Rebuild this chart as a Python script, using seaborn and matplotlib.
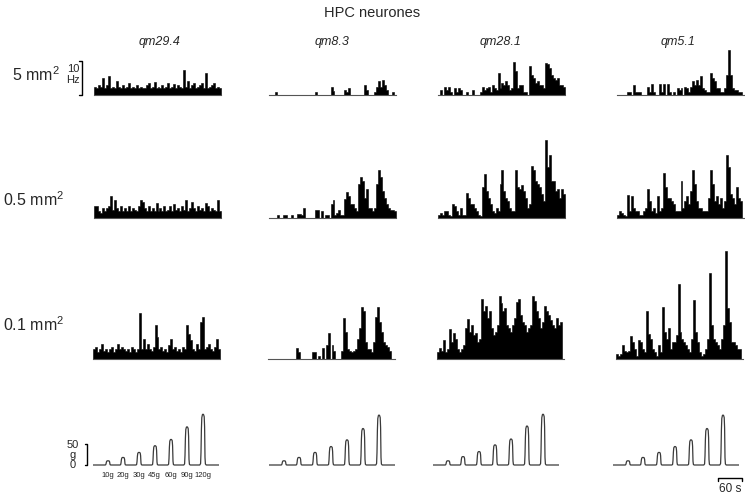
import numpy as np
import pandas as pd
import matplotlib
matplotlib.use("Agg")
import matplotlib.pyplot as plt
import seaborn as sns

# ---------------- data ----------------
neurones = ["qm29.4", "qm8.3", "qm28.1", "qm5.1"]
probe_sizes = ["5 mm", "0.5 mm", "0.1 mm"]
BIN_S = 5          # histogram bin width (s)
T_MAX = 320        # histogram time span (s)

# firing rate (Hz) per 5 s bin, probe 5 mm2
rate_5mm_qm29_4 = [2.5,2,3,2.5,5,2,3,5.5,2,2.5,2,4,2.5,2,3,2,2.5,3.5,2,2.5,2,3,2,2.5,2,2,3,3.5,2,2.5,3.8,2,
                   2.5,2,3,2,2.5,3.5,2,2.5,3.3,2,3,2.5,2,7.4,2.5,4,2,3,3.5,2,2.5,3,3.5,2,6.4,2,2.5,3,3.5,2,2.5,2]
rate_5mm_qm8_3 = [0,0,0,1,0,0,0,0,0,0,0,0,0,0,0,0,0,0,0,0,0,0,0,1,0,0,0,0,0,0,0,2.5,1.2,0,0,0,
                  0,0,1.5,0.8,2,0,0,0,0,0,0,0,3,1.5,0,0,0,1,2.5,4.2,2.5,4.3,3,1.5,0,0,1,0]
rate_5mm_qm28_1 = [0,1.5,0,2.5,1.5,2.5,1,0,2,1,2,1.5,0,0,1,0,0,1.5,0,0,0,1,2.5,1.5,2,2.5,1,3,2,1.5,6.4,2,
                   3.5,3,4,3,1.5,2,9.6,7,2,3,3,1,1,0,8.6,6,5,3.5,4,3,3,2,9.5,9,8,6,5,4.5,5,3,3,2.5]
rate_5mm_qm5_1 = [0,0,0,0,0,1,1,0,3,1,1,1,0,0,0,2.5,1,3.3,1,0,0,3.3,1,3.3,0,3.3,1,0,1,0,2,1.5,
                  2,0,2.5,2,1,2.5,4,3,4.5,3,5.5,2,1.5,1,1,6.4,5,4,2,2,1,1,2,6,13.2,6,2,1.5,1.5,1,1,0]

# probe 0.5 mm2
rate_05mm_qm29_4 = [3.5,3.5,2,1.5,3,2,3,3.5,6.4,2.5,5.4,3,2,3.5,2,3,2,3.5,2,3,2.5,2,3.5,5.4,4.6,3,2,3.5,2,3,2,4.4,
                    2,3,2,3.5,2,2.5,3.5,2,4.2,2.5,3,2,3.5,2.5,5.4,2,3,4.6,3,2,3.5,2.5,3,2,4.4,3.5,2,3,2.5,2,5.4,2]
rate_05mm_qm8_3 = [0,0,0,0,1,0,0,1,1,0,0,1,0,0,1.3,1.3,1,3,0,0,0,0,0,2.5,2.5,0,2,0,1,1,0,4,
                   5.4,1,1.5,2.5,1,1,5.5,7.6,6.5,4,4,3,2,10,12,11,6,8.5,3,3,2,3,10,14.2,12,8,6,4,3,2.5,2.5,2]
rate_05mm_qm28_1 = [1,1.5,1,2,2.2,1,0.5,4,3.5,2,1,3,1,1,7.5,6,4,4,3,2,1,0.5,9,12.8,8,6,4,2,1.5,3,2,10,
                    14.2,8,6,5,3,2,2,14,9,8.5,9.8,8,6,3,4,15.4,14,11,10,9,7,5,23,15,18.6,11,10.8,8,8.5,6,8.5,7]
rate_05mm_qm5_1 = [1,2,1.5,1,0.5,6.7,2,6.5,3,2,2,1,1,2,3,8.6,5,2,3,1.5,6.5,2,3,13.2,9,6,6,5,4,2,2,2,
                   10.8,3,5,6.5,4,8,14.2,10,5,3,3,2,2,2,6,14,10,5,6.5,4,6,3,5,18.6,15,7,6,4,9,6,5]

# probe 0.1 mm2
rate_01mm_qm29_4 = [3,3.5,2,3,4.4,2.5,3,2,3,3.5,2,3,4.4,3,3.5,3,2.5,3,2,3.5,3,2,3,13.4,3,5.8,3,4.4,3,2.5,3.5,10,
                    6.5,3,3.5,2.5,3,2,4,5.8,3,3.5,2.5,3,2,3.5,3,10,7.5,5.5,3,2.5,4.5,3,11,12.3,3,3.5,4.4,3,2.5,3.5,5.8,3]
rate_01mm_qm8_3 = [0,0,0,0,0,0,0,0,0,0,0,0,0,0,3.2,2,0,0,0,0,0,0,2,2,0,1,0,3.2,0,4.2,7.6,0,
                   4,2.5,0,0,0,2.5,12,8,3,2.5,2,2.5,3,6,9,15.3,14,5,3,3,2,5,12.4,15.3,11,8,5,4,3.5,2.5,0]
rate_01mm_qm28_1 = [2,3.2,2.5,5.7,2,3,8.8,5,7.6,6,3,2,3,4,9,11.9,8,10,7,7.6,5,6,17.6,14,15.5,12,14,9,7,8,10,18.6,
                    16.5,14,15,10,9,8,10,12,16.7,17.6,13,11,10,8,9,10,18.6,17,14,12,9,11,15.5,14,13,11.6,10,9,12,10,11]
rate_01mm_qm5_1 = [1.5,1,1.5,4,2.5,2,2.5,6.7,5,3,1,5.5,5,3,2,14.2,7.5,6,3,2,1,4,2,15.3,8,6,9,3,5,5,7,22,
                   8,6,5,4,3,2,6,17.5,8,5,2,1,1.5,3,6,25.3,10,6,5,4,3,6,10,31.9,15,10.8,5,5,4,3,3]

rates = [
    [rate_5mm_qm29_4, rate_5mm_qm8_3, rate_5mm_qm28_1, rate_5mm_qm5_1],
    [rate_05mm_qm29_4, rate_05mm_qm8_3, rate_05mm_qm28_1, rate_05mm_qm5_1],
    [rate_01mm_qm29_4, rate_01mm_qm8_3, rate_01mm_qm28_1, rate_01mm_qm5_1],
]

# force stimulus protocol
force_labels = ["10g", "20g", "30g", "45g", "60g", "90g", "120g"]
stim_center_s = [37.5, 75, 115, 155, 195, 235, 275]
force_qm29_4 = [10, 18, 30, 46, 61, 91, 121]
force_qm8_3 = [10, 18, 30, 44, 60, 87, 119]
force_qm28_1 = [10, 20, 32, 48, 62, 93, 121]
force_qm5_1 = [10, 18, 30, 44, 60, 87, 119]
forces = [force_qm29_4, force_qm8_3, force_qm28_1, force_qm5_1]
# normalised shape of one force pulse (time offset s, fraction of peak)
pulse_offset_s = [-8, -6, -5, -4, -3, -1.5, 0, 1.5, 3, 4, 5, 6, 8]
pulse_fraction = [0, 0.03, 0.25, 0.7, 0.93, 0.99, 1.0, 0.99, 0.95, 0.75, 0.15, 0.02, 0]
TRACE_END = 315

# ---------------- figure ----------------
sns.set_theme(style="white")
plt.rcParams["font.family"] = ["Liberation Sans", "DejaVu Sans"]
plt.rcParams["mathtext.default"] = "regular"

W, H = 745, 499
fig = plt.figure(figsize=(W / 100, H / 100), dpi=100)
fig.patch.set_facecolor("white")


def add_ax(x0, ytop, w, h):
    return fig.add_axes([x0 / W, 1 - (ytop + h) / H, w / W, h / H])


PX_PER_HZ = 3.4
row_base = [95, 218, 359]
row_ymax = [15, 25, 34]
col_x0 = [94, 269, 438, 617]
COL_W = 127

hist_axes = {}
for r in range(3):
    for c in range(4):
        vals = np.asarray(rates[r][c], dtype=float)
        n = len(vals)
        h = row_ymax[r] * PX_PER_HZ
        x0 = col_x0[c] - (1 if r == 2 else 0)
        ax = add_ax(x0, row_base[r] - h, COL_W, h)
        df = pd.DataFrame({"t": np.arange(n) * BIN_S + BIN_S / 2, "rate": vals})
        sns.histplot(data=df, x="t", weights="rate", bins=n, binrange=(0, n * BIN_S),
                     element="step", fill=True, color="black", alpha=1, linewidth=0.4, ax=ax)
        ax.set_xlim(0, T_MAX)
        ax.set_ylim(0, row_ymax[r])
        ax.set_xticks([]); ax.set_yticks([])
        ax.set_xlabel(""); ax.set_ylabel("")
        ax.patch.set_alpha(0)
        for s in ["left", "right", "top"]:
            ax.spines[s].set_visible(False)
        ax.spines["bottom"].set_color("#555555")
        ax.spines["bottom"].set_linewidth(0.8)
        hist_axes[(r, c)] = ax

# 10 Hz scale bracket
ax = hist_axes[(0, 0)]
bx, tick = -30, 7
ax.plot([bx - tick, bx, bx, bx - tick], [10, 10, 0, 0], color="black", lw=1.0, clip_on=False)

# force traces
PX_PER_G = 0.42
F_MIN, F_MAX = -10, 130
force_x0 = [93, 269, 433, 613]
force_axes = []
for c in range(4):
    t = [0.0]
    f = [0.0]
    for cen, F in zip(stim_center_s, forces[c]):
        for off, frac in zip(pulse_offset_s, pulse_fraction):
            t.append(cen + off)
            f.append(F * frac)
    t.append(TRACE_END)
    f.append(0.0)
    h = (F_MAX - F_MIN) * PX_PER_G
    ax = add_ax(force_x0[c], 465 - F_MAX * PX_PER_G, 126, h)
    trace = pd.DataFrame({"t": t, "force": f})
    sns.lineplot(data=trace, x="t", y="force", ax=ax, color="#3a3a3a", lw=0.9,
                 estimator=None, sort=False)
    ax.set_xlim(0, TRACE_END)
    ax.set_ylim(F_MIN, F_MAX)
    ax.axis("off")
    force_axes.append(ax)

# force labels under first trace
ax = force_axes[0]
for cen, lab in zip(stim_center_s, force_labels):
    ax.text(cen - 1, -26, lab, ha="center", va="center", fontsize=5.5, color="#222222")
# 50 g bracket
ax.plot([-20, -15, -15, -20], [50, 50, 0, 0], color="black", lw=1.0, clip_on=False)
ax.text(-50, 47, "50", ha="center", va="center", fontsize=8)
ax.text(-50, 24, "g", ha="center", va="center", fontsize=8)
ax.text(-50, 1, "0", ha="center", va="center", fontsize=8)

# 60 s bar
ax = force_axes[3]
ax.plot([262.5, 262.5, 322.5, 322.5], [-37, -31, -31, -37], color="black", lw=1.0, clip_on=False)
ax.text(292.5, -56, "60 s", ha="center", va="center", fontsize=8.5)

# text overlay in pixel coordinates
ov = fig.add_axes([0, 0, 1, 1])
ov.set_xlim(0, W)
ov.set_ylim(H, 0)
ov.axis("off")
ov.patch.set_alpha(0)
ov.text(372, 13, "HPC neurones", ha="center", va="center", fontsize=10.5)
for xc, name in zip([160, 332, 501, 678], neurones):
    ov.text(xc, 42, name, ha="center", va="center", fontsize=9, style="italic")
for (xl, yc), lab in zip([(12, 75), (3, 200), (3, 325)], probe_sizes):
    ov.text(xl, yc, lab + "$^{2}$", ha="left", va="center", fontsize=11.5)
ov.text(73, 69, "10", ha="center", va="center", fontsize=8)
ov.text(73, 80, "Hz", ha="center", va="center", fontsize=8)

fig.savefig("out.png", dpi=100)
